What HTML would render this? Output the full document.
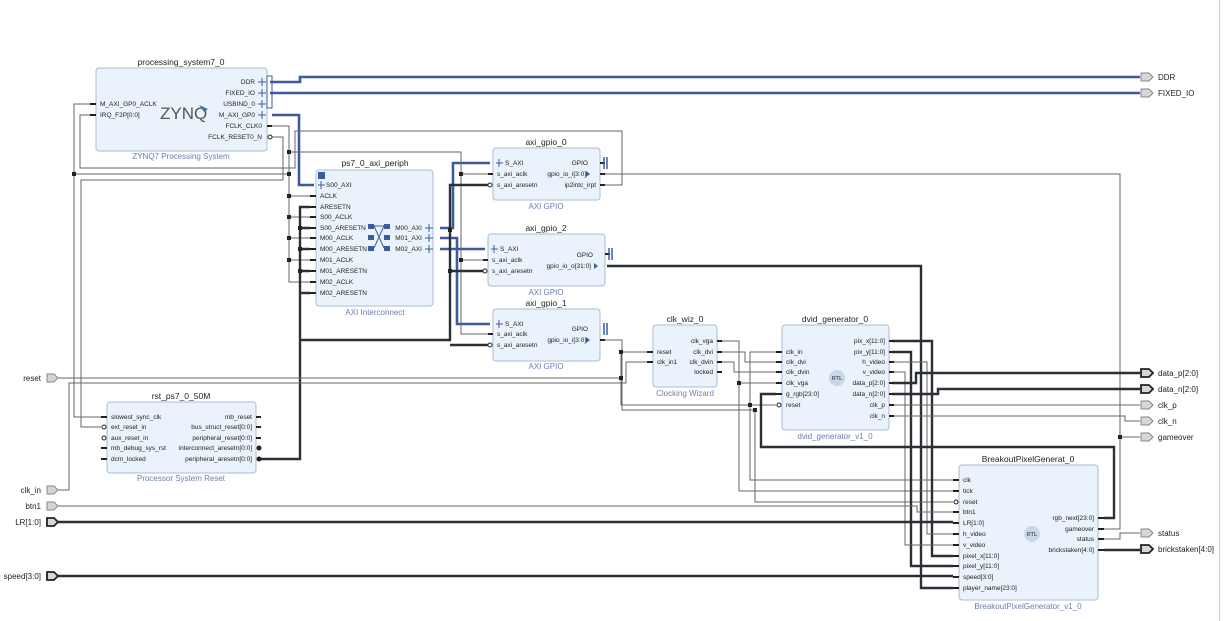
<!DOCTYPE html>
<html><head><meta charset="utf-8"><style>
html,body{margin:0;padding:0;background:#fff;}
svg{display:block;font-family:"Liberation Sans",sans-serif;}
.b{fill:#eaf3fc;stroke:#a9bdd2;stroke-width:1;}
.t{font-size:8.5px;fill:#222;text-anchor:middle;}
.s{font-size:8px;fill:#6a7fb0;text-anchor:middle;}
.l{font-size:6.5px;fill:#222;}
.r{font-size:6.5px;fill:#222;text-anchor:end;}
.w{fill:none;stroke:#666;stroke-width:1;}
.k{fill:none;stroke:#2b2f36;stroke-width:2.4;}
.u{fill:none;stroke:#3d5b9c;stroke-width:2.6;}
.st{stroke:#222;stroke-width:2;}
.p{fill:#d6d6d6;stroke:#888;stroke-width:1;}
.pk{fill:#d6d6d6;stroke:#222;stroke-width:1.8;}
.e{font-size:8px;fill:#222;}
.d{fill:#222;}
</style></head><body>
<svg width="1223" height="621" viewBox="0 0 1223 621">
<line x1="1219.5" y1="0" x2="1219.5" y2="621" stroke="#ccc"/>

<!-- ===== WIRES ===== -->
<!-- blue buses -->
<path class="u" d="M270 82H300V77H1140"/>
<path class="u" d="M270 93H1140"/>
<path class="u" d="M272 115H299V185H314"/>
<path class="u" d="M440 228H453V163H490"/>
<path class="u" d="M440 238H457V324H490"/>
<path class="u" d="M440 249H485"/>
<!-- clock net -->
<path class="w" d="M272 126H289V282H310"/>
<path class="w" d="M289 196H310M289 217H310M289 238H310M289 260H310"/>
<path class="w" d="M289 152H461V334H488M461 174H488M461 260H483"/>
<path class="w" d="M74 174H289"/>
<path class="w" d="M96 104H74V417H101"/>
<!-- IRQ -->
<path class="w" d="M96 115H80V168H295V131H622V185H605"/>
<!-- FCLK_RESET -->
<path class="w" d="M272 137H283V180H81V427H101"/>
<!-- peripheral_aresetn thick -->
<path class="k" d="M260 459H300V207H310M300 228H310M300 249H310M300 271H310M300 293H310"/>
<path class="k" d="M300 340H450V185H488M450 271H483M450 345H488"/>
<!-- gpio_2 output to player_name -->
<path class="k" d="M607 266H921V588H953"/>
<!-- gpio_0 gpio_io_i -->
<path class="w" d="M605 174H1120V529H1104M1120 437H1140"/>
<!-- gpio_1 gpio_io_i -->
<path class="w" d="M605 340H622V410H755V502H953"/>
<!-- reset ext -->
<path class="w" d="M58 378H621V352H647"/>
<path class="w" d="M621 378V405H776"/>
<!-- clk_in -->
<path class="w" d="M58 490H69V383H626V362H647"/>
<!-- clk wiz outputs -->
<path class="w" d="M720 341H739V491H953M739 383H776"/>
<path class="w" d="M720 352H745V362H776"/>
<path class="w" d="M720 362H734V372H776"/>
<path class="w" d="M776 352H750V480H953"/>
<!-- dvid outputs -->
<path class="k" d="M892 341H932V556H953"/>
<path class="k" d="M892 352H911V566H953"/>
<path class="w" d="M892 362H927V534H953"/>
<path class="w" d="M892 372H905V545H953"/>
<path class="k" d="M892 383H916V373H1140"/>
<path class="k" d="M892 394H938V389H1140"/>
<path class="w" d="M892 405H1140"/>
<path class="w" d="M892 416H1125V421H1140"/>
<path class="k" d="M776 394H761V447H1114V518H1104"/>
<path class="w" d="M1104 539H1120V533H1140"/>
<path class="k" d="M1104 550H1140"/>
<!-- bottom left inputs -->
<path class="w" d="M58 506H917V512H953"/>
<path class="k" d="M58 522H953"/>
<path class="k" d="M58 576H953"/>

<!-- dots -->
<g class="d">
<rect x="72" y="172" width="4" height="4"/><rect x="287" y="172" width="4" height="4"/>
<rect x="287" y="150" width="4" height="4"/><rect x="459" y="172" width="4" height="4"/>
<rect x="459" y="258" width="4" height="4"/><rect x="287" y="194" width="4" height="4"/>
<rect x="287" y="215" width="4" height="4"/><rect x="287" y="236" width="4" height="4"/>
<rect x="287" y="258" width="4" height="4"/><rect x="298" y="226" width="4" height="4"/>
<rect x="298" y="247" width="4" height="4"/><rect x="298" y="269" width="4" height="4"/>
<rect x="448" y="269" width="4" height="4"/><rect x="448" y="228" width="4" height="4"/>
<rect x="619" y="350" width="4" height="4"/><rect x="619" y="376" width="4" height="4"/>
<rect x="737" y="381" width="4" height="4"/><rect x="748" y="403" width="4" height="4"/>
<rect x="753" y="408" width="4" height="4"/><rect x="1118" y="435" width="4" height="4"/>
</g>

<!-- ===== processing_system7_0 ===== -->
<text class="t" x="181" y="65">processing_system7_0</text>
<rect class="b" x="96" y="68" width="171" height="83" rx="3"/>
<text class="s" x="181" y="159">ZYNQ7 Processing System</text>
<text x="160" y="119" font-size="17" fill="#555">ZYNQ</text>
<path d="M199 105l9 4-4 3z" fill="#4a6fa5"/>
<text class="l" x="100" y="106">M_AXI_GP0_ACLK</text>
<text class="l" x="100" y="117">IRQ_F2P[0:0]</text>
<path class="st" d="M90 104h6M90 115h6"/>
<text class="r" x="255" y="84">DDR</text><text class="r" x="255" y="95">FIXED_IO</text>
<text class="r" x="255" y="106">USBIND_0</text><text class="r" x="255" y="117">M_AXI_GP0</text>
<text class="r" x="262" y="128">FCLK_CLK0</text><text class="r" x="262" y="139">FCLK_RESET0_N</text>
<g stroke="#3d5b9c" stroke-width="1"><path d="M258 82h8M262 78v8M258 93h8M262 89v8M258 104h8M262 100v8M258 115h8M262 111v8"/></g>
<rect x="267" y="76" width="5" height="32" fill="none" stroke="#3d5b9c"/>
<path class="st" d="M267 126h5"/><circle cx="270" cy="137" r="2" fill="#fff" stroke="#222"/>

<!-- ===== ps7_0_axi_periph ===== -->
<text class="t" x="375" y="166">ps7_0_axi_periph</text>
<rect class="b" x="316" y="170" width="117" height="136" rx="3"/>
<text class="s" x="375" y="315">AXI Interconnect</text>
<rect x="318" y="172" width="7" height="7" fill="#3d5b9c"/>
<g class="l">
<text x="326" y="187">S00_AXI</text><text x="320" y="198">ACLK</text><text x="320" y="209">ARESETN</text>
<text x="320" y="219">S00_ACLK</text><text x="320" y="230">S00_ARESETN</text><text x="320" y="240">M00_ACLK</text>
<text x="320" y="251">M00_ARESETN</text><text x="320" y="262">M01_ACLK</text><text x="320" y="273">M01_ARESETN</text>
<text x="320" y="284">M02_ACLK</text><text x="320" y="295">M02_ARESETN</text></g>
<path class="st" d="M310 196h6M310 207h6M310 217h6M310 228h6M310 238h6M310 249h6M310 260h6M310 271h6M310 282h6M310 293h6"/>
<path d="M318 185h7M321 181v8" stroke="#3d5b9c"/>
<text class="r" x="422" y="230">M00_AXI</text><text class="r" x="422" y="240">M01_AXI</text><text class="r" x="422" y="251">M02_AXI</text>
<path d="M425 228h8M429 224v8M425 238h8M429 234v8M425 249h8M429 245v8" stroke="#3d5b9c"/>
<g fill="#3d5b9c"><rect x="368" y="224" width="6" height="5"/><rect x="384" y="224" width="6" height="5"/><rect x="368" y="235" width="6" height="5"/><rect x="384" y="235" width="6" height="5"/><rect x="368" y="246" width="6" height="5"/><rect x="384" y="246" width="6" height="5"/></g>
<path d="M374 226L384 248M384 226L374 248M374 226h10" stroke="#3d5b9c" fill="none"/>

<!-- ===== axi_gpio_0 ===== -->
<text class="t" x="546" y="145">axi_gpio_0</text>
<rect class="b" x="493" y="148" width="107" height="52" rx="3"/>
<text class="s" x="546" y="209">AXI GPIO</text>
<path d="M496 163h7M499 159v8" stroke="#3d5b9c"/>
<text class="l" x="505" y="165">S_AXI</text><text class="l" x="497" y="176">s_axi_aclk</text><text class="l" x="497" y="187">s_axi_aresetn</text>
<path class="st" d="M488 174h5"/><circle cx="490" cy="185" r="2" fill="#fff" stroke="#222"/>
<text class="r" x="588" y="165">GPIO</text><text class="r" x="586" y="176">gpio_io_i[3:0]</text><text class="r" x="596" y="187">ip2intc_irpt</text>
<path d="M590 174l-4-3v6z" fill="#3d5b9c"/>
<path class="st" d="M600 163h5M600 174h5M600 185h5"/><path d="M604 157v12M607 157v12" stroke="#3d5b9c" stroke-width="1.5"/>

<!-- ===== axi_gpio_2 ===== -->
<text class="t" x="546" y="231">axi_gpio_2</text>
<rect class="b" x="488" y="234" width="117" height="52" rx="3"/>
<text class="s" x="546" y="295">AXI GPIO</text>
<path d="M491 249h7M494 245v8" stroke="#3d5b9c"/>
<text class="l" x="500" y="251">S_AXI</text><text class="l" x="492" y="262">s_axi_aclk</text><text class="l" x="492" y="273" font-size="5.5">s_axi_aresetn</text>
<path class="st" d="M483 260h5"/><circle cx="485" cy="271" r="2" fill="#fff" stroke="#222"/>
<text class="r" x="593" y="257">GPIO</text><text class="r" x="591" y="268">gpio_io_o[31:0]</text>
<path d="M594 263l4 3-4 3z" fill="#3d5b9c"/>
<path class="st" d="M605 254h5"/><path d="M609 248v12M612 248v12" stroke="#3d5b9c" stroke-width="1.5"/>

<!-- ===== axi_gpio_1 ===== -->
<text class="t" x="546" y="306">axi_gpio_1</text>
<rect class="b" x="493" y="309" width="107" height="52" rx="3"/>
<text class="s" x="546" y="369">AXI GPIO</text>
<path d="M496 324h7M499 320v8" stroke="#3d5b9c"/>
<text class="l" x="505" y="326">S_AXI</text><text class="l" x="497" y="336">s_axi_aclk</text><text class="l" x="497" y="347">s_axi_aresetn</text>
<path class="st" d="M488 334h5"/><circle cx="490" cy="345" r="2" fill="#fff" stroke="#222"/>
<text class="r" x="588" y="331">GPIO</text><text class="r" x="586" y="342">gpio_io_i[3:0]</text>
<path d="M590 340l-4-3v6z" fill="#3d5b9c"/>
<path class="st" d="M600 340h5"/><path d="M604 323v12M607 323v12" stroke="#3d5b9c" stroke-width="1.5"/>

<!-- ===== clk_wiz_0 ===== -->
<text class="t" x="685" y="322">clk_wiz_0</text>
<rect class="b" x="653" y="325" width="64" height="62" rx="3"/>
<text class="s" x="685" y="396">Clocking Wizard</text>
<text class="l" x="657" y="354">reset</text><text class="l" x="657" y="364">clk_in1</text>
<path class="st" d="M647 352h6M647 362h6"/>
<text class="r" x="713" y="343">clk_vga</text><text class="r" x="713" y="354">clk_dvi</text><text class="r" x="713" y="364">clk_dvin</text><text class="r" x="713" y="374">locked</text>
<path class="st" d="M717 341h5M717 352h5M717 362h5M717 372h5"/>

<!-- ===== dvid_generator_0 ===== -->
<text class="t" x="835" y="322">dvid_generator_0</text>
<rect class="b" x="782" y="325" width="107" height="105" rx="3"/>
<text class="s" x="835" y="439">dvid_generator_v1_0</text>
<g class="l"><text x="786" y="354">clk_in</text><text x="786" y="364">clk_dvi</text><text x="786" y="374">clk_dvin</text><text x="786" y="385">clk_vga</text><text x="786" y="396">g_rgb[23:0]</text><text x="786" y="407">reset</text></g>
<path class="st" d="M776 352h6M776 362h6M776 372h6M776 383h6M776 394h6"/><circle cx="779" cy="405" r="2" fill="#fff" stroke="#222"/>
<g class="r"><text x="885" y="343">pix_x[11:0]</text><text x="885" y="354">pix_y[11:0]</text><text x="885" y="364">h_video</text><text x="885" y="374">v_video</text><text x="885" y="385">data_p[2:0]</text><text x="885" y="396">data_n[2:0]</text><text x="885" y="407">clk_p</text><text x="885" y="418">clk_n</text></g>
<path class="st" d="M889 341h5M889 352h5M889 362h5M889 372h5M889 383h5M889 394h5M889 405h5M889 416h5"/>
<circle cx="837" cy="378" r="8" fill="#c9d7e3"/><text x="837" y="380" font-size="5.5" font-weight="bold" fill="#4a6080" text-anchor="middle">RTL</text>

<!-- ===== BreakoutPixelGenerat_0 ===== -->
<text class="t" x="1028" y="462">BreakoutPixelGenerat_0</text>
<rect class="b" x="959" y="465" width="139" height="135" rx="3"/>
<text class="s" x="1028" y="609">BreakoutPixelGenerator_v1_0</text>
<g class="l"><text x="963" y="482">clk</text><text x="963" y="493">tick</text><text x="963" y="504">reset</text><text x="963" y="514">btn1</text><text x="963" y="525">LR[1:0]</text><text x="963" y="536">h_video</text><text x="963" y="547">v_video</text><text x="963" y="558">pixel_x[11:0]</text><text x="963" y="568">pixel_y[11:0]</text><text x="963" y="579">speed[3:0]</text><text x="963" y="590">player_name[23:0]</text></g>
<path class="st" d="M953 480h6M953 491h6M953 512h6M953 523h6M953 534h6M953 545h6M953 556h6M953 566h6M953 577h6M953 588h6"/><circle cx="956" cy="502" r="2" fill="#fff" stroke="#222"/>
<g class="r"><text x="1094" y="520">rgb_next[23:0]</text><text x="1094" y="531">gameover</text><text x="1094" y="541">status</text><text x="1094" y="552">brickstaken[4:0]</text></g>
<path class="st" d="M1098 518h6M1098 529h6M1098 539h6M1098 550h6"/>
<circle cx="1032" cy="534" r="8" fill="#c9d7e3"/><text x="1032" y="536" font-size="5.5" font-weight="bold" fill="#4a6080" text-anchor="middle">RTL</text>

<!-- ===== rst_ps7_0_50M ===== -->
<text class="t" x="181" y="399">rst_ps7_0_50M</text>
<rect class="b" x="107" y="402" width="149" height="71" rx="3"/>
<text class="s" x="181" y="481">Processor System Reset</text>
<g class="l"><text x="111" y="419">slowest_sync_clk</text><text x="111" y="429">ext_reset_in</text><text x="111" y="440">aux_reset_in</text><text x="111" y="450">mb_debug_sys_rst</text><text x="111" y="461">dcm_locked</text></g>
<path class="st" d="M101 417h6M101 448h6M101 459h6"/><circle cx="104" cy="427" r="2" fill="#fff" stroke="#222"/><circle cx="104" cy="438" r="2" fill="#fff" stroke="#222"/>
<g class="r"><text x="252" y="419">mb_reset</text><text x="252" y="429">bus_struct_reset[0:0]</text><text x="252" y="440">peripheral_reset[0:0]</text><text x="252" y="450">interconnect_aresetn[0:0]</text><text x="252" y="461">peripheral_aresetn[0:0]</text></g>
<path class="st" d="M256 417h5M256 427h5M256 438h5"/><circle cx="259" cy="448" r="2.5" fill="#222"/><circle cx="259" cy="459" r="2.5" fill="#222"/>

<!-- ===== external ports ===== -->
<g>
<path class="p" d="M47 374h7l4 4-4 4h-7z"/><text class="e" x="41" y="381" text-anchor="end">reset</text>
<path class="p" d="M47 486h7l4 4-4 4h-7z"/><text class="e" x="41" y="493" text-anchor="end">clk_in</text>
<path class="p" d="M47 502h7l4 4-4 4h-7z"/><text class="e" x="41" y="509" text-anchor="end">btn1</text>
<path class="pk" d="M47 518h7l4 4-4 4h-7z"/><text class="e" x="41" y="525" text-anchor="end">LR[1:0]</text>
<path class="pk" d="M47 572h7l4 4-4 4h-7z"/><text class="e" x="41" y="579" text-anchor="end">speed[3:0]</text>

<path class="p" d="M1141 73h8l4 4-4 4h-8z" stroke="#3d5b9c"/><text class="e" x="1158" y="80">DDR</text>
<path class="p" d="M1141 89h8l4 4-4 4h-8z" stroke="#3d5b9c"/><text class="e" x="1158" y="96">FIXED_IO</text>
<path class="pk" d="M1141 369h8l4 4-4 4h-8z"/><text class="e" x="1158" y="376">data_p[2:0]</text>
<path class="pk" d="M1141 385h8l4 4-4 4h-8z"/><text class="e" x="1158" y="392">data_n[2:0]</text>
<path class="p" d="M1141 401h8l4 4-4 4h-8z"/><text class="e" x="1158" y="408">clk_p</text>
<path class="p" d="M1141 417h8l4 4-4 4h-8z"/><text class="e" x="1158" y="424">clk_n</text>
<path class="p" d="M1141 433h8l4 4-4 4h-8z"/><text class="e" x="1158" y="440">gameover</text>
<path class="p" d="M1141 529h8l4 4-4 4h-8z"/><text class="e" x="1158" y="536">status</text>
<path class="pk" d="M1141 545h8l4 4-4 4h-8z"/><text class="e" x="1158" y="552">brickstaken[4:0]</text>
</g>
</svg>
</body></html>
